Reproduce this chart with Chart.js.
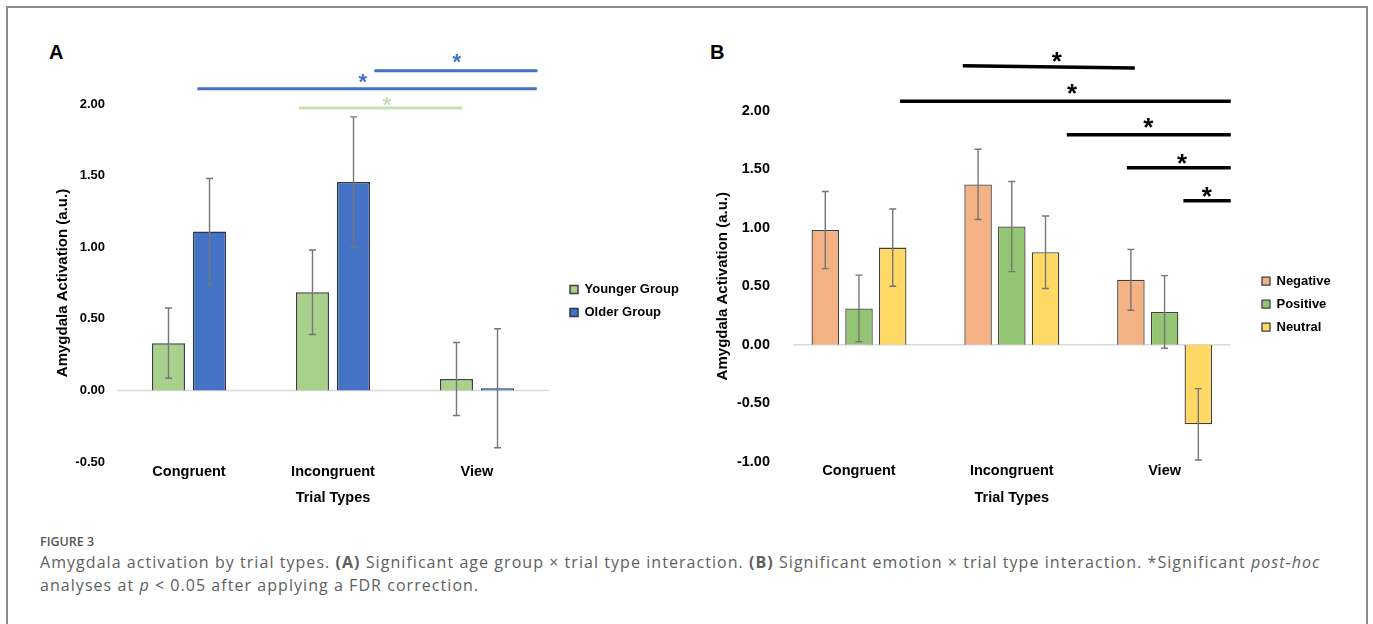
<!DOCTYPE html>
<html>
<head>
<meta charset="utf-8">
<title>Figure 3</title>
<script src="https://cdn.jsdelivr.net/npm/chart.js@4.4.0/dist/chart.umd.min.js"></script>
<style>
  body { margin: 0; background: #fff; width: 1373px; height: 624px; overflow: hidden; position: relative; }
  .frame { position: absolute; left: 6px; top: 6px; width: 1358px; height: 700px; border: 2px solid #8c8c8c; }
  .tag { position: absolute; top: 41px; font: bold 20px "Liberation Sans", Arial, sans-serif; color: #000; }
  canvas { position: absolute; top: 0; }
  #chartA { left: 0; }
  #chartB { left: 690px; }
  .fig { position: absolute; left: 40px; top: 534px; font: 600 12.5px "Open Sans", sans-serif; color: #555; line-height: 16px; }
  .caption { position: absolute; left: 40px; top: 551px; font: 400 16px "Open Sans", sans-serif; letter-spacing: 1.05px; color: #606060; line-height: 23px; white-space: nowrap; }
</style>
</head>
<body>
<div class="frame"></div>
<div class="tag" style="left:49px">A</div>
<div class="tag" style="left:710px">B</div>
<canvas id="chartA" width="690" height="520"></canvas>
<canvas id="chartB" width="683" height="520"></canvas>
<div class="fig">FIGURE 3</div>
<div class="caption">Amygdala activation by trial types. <b>(A)</b> Significant age group × trial type interaction. <b>(B)</b> Significant emotion × trial type interaction. *Significant <i>post-hoc</i><br>analyses at <i>p</i> &lt; 0.05 after applying a FDR correction.</div>
<script>
// categories
const trialTypes = ['Congruent', 'Incongruent', 'View'];

// panel A: age group
const youngerMean = [0.33, 0.685, 0.08];
const youngerErr = [0.245, 0.295, 0.255];
const olderMean = [1.11, 1.455, 0.015];
const olderErr = [0.37, 0.455, 0.415];

// panel B: emotion
const negativeMean = [0.98, 1.37, 0.555];
const negativeErr = [0.33, 0.30, 0.26];
const positiveMean = [0.31, 1.01, 0.28];
const positiveErr = [0.285, 0.385, 0.31];
const neutralMean = [0.83, 0.79, -0.68];
const neutralErr = [0.33, 0.31, 0.305];

// significance bars: from / to (category index), y at start / end, star position
const sigA = [
  { from: 1.287, to: 2.42, y1: 2.233, y2: 2.233, sx: 1.859, sy: 2.336, color: '#4472c4' },
  { from: 0.058, to: 2.415, y1: 2.107, y2: 2.107, sx: 1.206, sy: 2.196, color: '#4472c4' },
  { from: 0.764, to: 1.896, y1: 1.972, y2: 1.972, sx: 1.373, sy: 2.033, color: '#c5e0b4' }
];
const sigB = [
  { from: 0.679, to: 1.805, y1: 2.385, y2: 2.365, sx: 1.294, sy: 2.479, color: '#000' },
  { from: 0.268, to: 2.433, y1: 2.08, y2: 2.08, sx: 1.394, sy: 2.199, color: '#000' },
  { from: 1.36, to: 2.433, y1: 1.795, y2: 1.795, sx: 1.894, sy: 1.915, color: '#000' },
  { from: 1.753, to: 2.433, y1: 1.513, y2: 1.513, sx: 2.115, sy: 1.601, color: '#000' },
  { from: 2.123, to: 2.433, y1: 1.231, y2: 1.231, sx: 2.276, sy: 1.322, color: '#000' }
];

const FONT = '"Liberation Sans", Arial, sans-serif';
Chart.defaults.font.family = FONT;
Chart.defaults.color = '#000';

// light grey line at zero, drawn only under the bars
const zeroLine = {
  id: 'zeroLine',
  beforeDatasetsDraw(chart, args, opts) {
    const { ctx, scales: { x, y } } = chart;
    const py = y.getPixelForValue(0);
    ctx.save();
    ctx.strokeStyle = '#d9d9d9';
    ctx.lineWidth = 1.5;
    ctx.beginPath();
    ctx.moveTo(x.getPixelForValue(opts.from), py);
    ctx.lineTo(x.getPixelForValue(opts.to), py);
    ctx.stroke();
    ctx.restore();
  }
};

// +/- error whiskers with caps
const errorBars = {
  id: 'errorBars',
  afterDatasetsDraw(chart) {
    const { ctx, scales: { y } } = chart;
    ctx.save();
    ctx.strokeStyle = '#767676';
    ctx.lineWidth = 1.4;
    chart.data.datasets.forEach((ds, i) => {
      chart.getDatasetMeta(i).data.forEach((bar, j) => {
        const top = y.getPixelForValue(ds.data[j] + ds.errors[j]);
        const bot = y.getPixelForValue(ds.data[j] - ds.errors[j]);
        ctx.beginPath();
        ctx.moveTo(bar.x, top); ctx.lineTo(bar.x, bot);
        ctx.moveTo(bar.x - 3.5, top); ctx.lineTo(bar.x + 3.5, top);
        ctx.moveTo(bar.x - 3.5, bot); ctx.lineTo(bar.x + 3.5, bot);
        ctx.stroke();
      });
    });
    ctx.restore();
  }
};

// significance lines and stars
function sigLines(items, width, starSize) {
  return {
    id: 'sigLines',
    afterDraw(chart) {
      const { ctx, scales: { x, y } } = chart;
      ctx.save();
      items.forEach(s => {
        ctx.strokeStyle = s.color;
        ctx.lineWidth = width;
        ctx.beginPath();
        ctx.moveTo(x.getPixelForValue(s.from), y.getPixelForValue(s.y1));
        ctx.lineTo(x.getPixelForValue(s.to), y.getPixelForValue(s.y2));
        ctx.stroke();
        ctx.fillStyle = s.color;
        ctx.font = 'bold ' + starSize + 'px ' + FONT;
        ctx.textAlign = 'center';
        ctx.textBaseline = 'alphabetic';
        ctx.fillText('*', x.getPixelForValue(s.sx), y.getPixelForValue(s.sy) + starSize * 0.58);
      });
      ctx.restore();
    }
  };
}

// move the legend a bit off the plot
const legendNudge = {
  id: 'legendNudge',
  afterLayout(chart, args, opts) {
    const lg = chart.legend;
    lg.left += opts.dx; lg.right += opts.dx;
    lg.top += opts.dy; lg.bottom += opts.dy;
  }
};

function axes(min, max, tickSize, yWidth, tickPad) {
  return {
    x: {
      grid: { display: false, drawTicks: false },
      border: { display: false },
      ticks: { font: { size: 14.5, weight: 'bold' }, padding: 1 },
      title: { display: true, text: 'Trial Types', font: { size: 14.5, weight: 'bold' }, padding: { top: 0, bottom: 5 } },
      afterFit: s => { s.height = 50; }
    },
    y: {
      min: min,
      max: max,
      grid: { display: false, drawTicks: false },
      border: { display: false },
      ticks: { stepSize: 0.5, padding: tickPad, font: { size: tickSize, weight: 'bold' }, callback: v => v.toFixed(2) },
      title: { display: true, text: 'Amygdala Activation (a.u.)', font: { size: 15, weight: 'bold' }, padding: { top: 0, bottom: 0 } },
      afterFit: s => { s.width = yWidth; }
    }
  };
}

function legendOpts(maxWidth) {
  return {
    position: 'right',
    maxWidth: maxWidth,
    labels: { boxWidth: 8, boxHeight: 8, padding: 10, font: { size: 13, weight: 'bold' } }
  };
}

new Chart(document.getElementById('chartA'), {
  type: 'bar',
  data: {
    labels: trialTypes,
    datasets: [
      { label: 'Younger Group', data: youngerMean, errors: youngerErr, backgroundColor: '#a9d18e', borderColor: '#404040', borderWidth: 1.5 },
      { label: 'Older Group', data: olderMean, errors: olderErr, backgroundColor: '#4472c4', borderColor: '#2b3550', borderWidth: 1.5 }
    ]
  },
  options: {
    responsive: false,
    animation: false,
    datasets: { bar: { categoryPercentage: 0.57, barPercentage: 0.805 } },
    layout: { padding: { left: 54, top: 104, right: 21, bottom: 8 } },
    scales: axes(-0.5, 2, 13, 63, 12),
    plugins: {
      legend: legendOpts(120),
      tooltip: { enabled: false },
      zeroLine: { from: -0.5, to: 2.5 },
      legendNudge: { dx: 11, dy: -7 }
    }
  },
  plugins: [zeroLine, errorBars, sigLines(sigA, 3, 22), legendNudge]
});

new Chart(document.getElementById('chartB'), {
  type: 'bar',
  data: {
    labels: trialTypes,
    datasets: [
      { label: 'Negative', data: negativeMean, errors: negativeErr, backgroundColor: '#f4b183', borderColor: '#404040', borderWidth: 1.3 },
      { label: 'Positive', data: positiveMean, errors: positiveErr, backgroundColor: '#94c572', borderColor: '#404040', borderWidth: 1.3 },
      { label: 'Neutral', data: neutralMean, errors: neutralErr, backgroundColor: '#ffd966', borderColor: '#404040', borderWidth: 1.3 }
    ]
  },
  options: {
    responsive: false,
    animation: false,
    datasets: { bar: { categoryPercentage: 0.662, barPercentage: 0.816 } },
    layout: { padding: { left: 24, top: 110.7, right: 52, bottom: 8.3 } },
    scales: axes(-1, 2, 14.5, 68.6, 12.6),
    plugins: {
      legend: legendOpts(80),
      tooltip: { enabled: false },
      zeroLine: { from: -0.43, to: 2.43 },
      legendNudge: { dx: 11, dy: -7 }
    }
  },
  plugins: [zeroLine, errorBars, sigLines(sigB, 3.5, 26), legendNudge]
});
</script>
</body>
</html>
